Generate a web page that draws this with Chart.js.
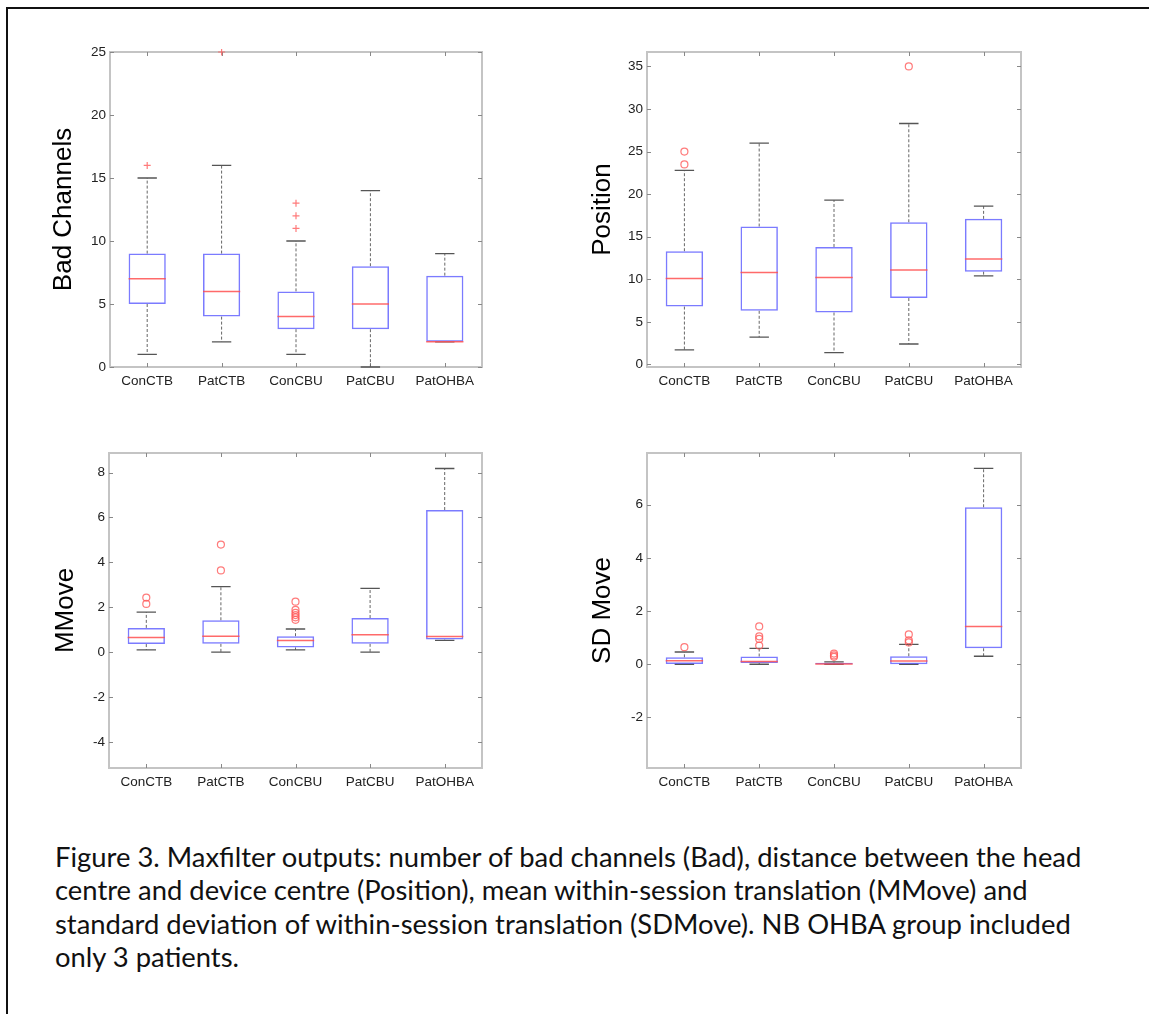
<!DOCTYPE html>
<html>
<head>
<meta charset="utf-8">
<script src="https://cdn.jsdelivr.net/npm/chart.js@4.4.1/dist/chart.umd.min.js"></script>
<style>
  body { margin: 0; background: #fff; width: 1149px; height: 1014px; overflow: hidden; position: relative; }
  .frame { position: absolute; left: 6px; top: 7px; width: 1160px; height: 1030px; border-top: 2px solid #111; border-left: 2px solid #111; }
  canvas.plot { position: absolute; filter: blur(0.5px); }
  .caption { position: absolute; left: 55px; top: 840px; font-family: Lato, "Open Sans", sans-serif; font-size: 27.4px; line-height: 33.3px; color: #111; white-space: nowrap; }
</style>
</head>
<body>
<div class="frame"></div>
<canvas id="badChart" class="plot" width="574" height="420" style="left:0;top:0"></canvas>
<canvas id="posChart" class="plot" width="575" height="420" style="left:574px;top:0"></canvas>
<canvas id="mmoveChart" class="plot" width="574" height="400" style="left:0;top:420px"></canvas>
<canvas id="sdChart" class="plot" width="575" height="400" style="left:574px;top:420px"></canvas>
<div class="caption">
  <div>Figure 3. Maxfilter outputs: number of bad channels (Bad), distance between the head</div>
  <div>centre and device centre (Position), mean within-session translation (MMove) and</div>
  <div>standard deviation of within-session translation (SDMove). NB OHBA group included</div>
  <div>only 3 patients.</div>
</div>
<script>
const groups = ['ConCTB', 'PatCTB', 'ConCBU', 'PatCBU', 'PatOHBA'];

// bad channels
const badLow  = [1, 2, 1, 0, 2];
const badQ1   = [5, 4, 3, 3, 2];
const badMed  = [7, 6, 4, 5, 2];
const badQ3   = [9, 9, 6, 8, 7.25];
const badHigh = [15, 16, 10, 14, 9];
const badOut  = [[16], [25], [11, 12, 13], [], []];
const badTicks = [0, 5, 10, 15, 20, 25];

// head position
const posLow  = [1.7, 3.2, 1.4, 2.4, 10.4];
const posQ1   = [6.8, 6.3, 6.1, 7.8, 10.9];
const posMed  = [10.1, 10.8, 10.2, 11.1, 12.4];
const posQ3   = [13.3, 16.2, 13.8, 16.7, 17.1];
const posHigh = [22.8, 26, 19.3, 28.3, 18.6];
const posOut  = [[23.5, 25], [], [], [35], []];
const posTicks = [0, 5, 10, 15, 20, 25, 30, 35];

// mean movement
const mmLow  = [0.1, 0, 0.1, 0, 0.52];
const mmQ1   = [0.36, 0.37, 0.21, 0.37, 0.56];
const mmMed  = [0.65, 0.71, 0.52, 0.77, 0.7];
const mmQ3   = [1.08, 1.42, 0.71, 1.52, 6.33];
const mmHigh = [1.78, 2.92, 1.03, 2.84, 8.18];
const mmOut  = [[2.15, 2.43], [3.64, 4.79], [1.44, 1.55, 1.65, 1.75, 1.88, 2.25], [], []];
const mmTicks = [-4, -2, 0, 2, 4, 6, 8];

// SD of movement
const sdLow  = [0, 0, 0, 0, 0.3];
const sdQ1   = [0.01, 0.05, 0, 0, 0.6];
const sdMed  = [0.13, 0.1, 0.01, 0.12, 1.42];
const sdQ3   = [0.26, 0.29, 0.06, 0.3, 5.9];
const sdHigh = [0.46, 0.6, 0.09, 0.75, 7.36];
const sdOut  = [[0.64], [0.7, 0.95, 1.05, 1.42], [0.28, 0.33, 0.4], [0.82, 0.9, 1.12], []];
const sdTicks = [-2, 0, 2, 4, 6];

const boxBlue = 'rgba(90, 90, 255, 0.8)';
const medRed = 'rgba(255, 80, 80, 0.85)';
const outRed = 'rgba(255, 90, 90, 0.8)';
const tickFont = { family: 'Liberation Sans', size: 13.5 };

// whiskers under the boxes, medians on top, then the matlab-style frame with inward ticks
const boxWhiskers = {
  id: 'boxWhiskers',
  beforeDatasetsDraw(chart, args, opts) {
    const { ctx, scales: { x, y } } = chart;
    const step = x.getPixelForValue(1) - x.getPixelForValue(0);
    const cap = step * 0.13;
    ctx.save();
    opts.low.forEach((lo, i) => {
      const cx = x.getPixelForValue(i);
      const yLo = y.getPixelForValue(lo), yQ1 = y.getPixelForValue(opts.q1[i]);
      const yHi = y.getPixelForValue(opts.high[i]), yQ3 = y.getPixelForValue(opts.q3[i]);
      ctx.strokeStyle = '#666';
      ctx.lineWidth = 1;
      ctx.setLineDash([3, 2]);
      ctx.beginPath();
      ctx.moveTo(cx, yQ1); ctx.lineTo(cx, yLo);
      ctx.moveTo(cx, yQ3); ctx.lineTo(cx, yHi);
      ctx.stroke();
      ctx.setLineDash([]);
      ctx.strokeStyle = '#555';
      ctx.lineWidth = 1.3;
      ctx.beginPath();
      ctx.moveTo(cx - cap, yLo); ctx.lineTo(cx + cap, yLo);
      ctx.moveTo(cx - cap, yHi); ctx.lineTo(cx + cap, yHi);
      ctx.stroke();
    });
    ctx.restore();
  },
  afterDatasetsDraw(chart, args, opts) {
    const { ctx, scales: { x, y } } = chart;
    const boxes = chart.getDatasetMeta(0).data;
    ctx.save();
    ctx.strokeStyle = medRed;
    ctx.lineWidth = 1.5;
    opts.med.forEach((m, i) => {
      const half = boxes[i].width / 2;
      const cx = x.getPixelForValue(i);
      const py = y.getPixelForValue(m);
      ctx.beginPath();
      ctx.moveTo(cx - half, py); ctx.lineTo(cx + half, py);
      ctx.stroke();
    });
    ctx.restore();
  },
  beforeDraw(chart) {
    const { ctx, chartArea: a, scales: { x, y } } = chart;
    ctx.save();
    ctx.strokeStyle = '#c4c4c4';
    ctx.lineWidth = 2;
    ctx.strokeRect(a.left, a.top, a.right - a.left, a.bottom - a.top);
    ctx.strokeStyle = '#888';
    ctx.lineWidth = 1;
    ctx.beginPath();
    y.ticks.forEach(t => {
      const py = Math.round(y.getPixelForValue(t.value)) + 0.5;
      ctx.moveTo(a.left, py); ctx.lineTo(a.left + 4, py);
      ctx.moveTo(a.right, py); ctx.lineTo(a.right - 4, py);
    });
    groups.forEach((g, i) => {
      const px = Math.round(x.getPixelForValue(i)) + 0.5;
      ctx.moveTo(px, a.top); ctx.lineTo(px, a.top + 4);
      ctx.moveTo(px, a.bottom); ctx.lineTo(px, a.bottom - 4);
    });
    ctx.stroke();
    ctx.restore();
  }
};

function makeBoxChart(id, cfg) {
  const outliers = groups.flatMap((g, i) => cfg.out[i].map(v => ({ x: g, y: v })));
  return new Chart(document.getElementById(id), {
    type: 'bar',
    data: {
      labels: groups,
      datasets: [{
        data: cfg.q1.map((v, i) => [v, cfg.q3[i]]),
        backgroundColor: 'rgba(0,0,0,0)',
        borderColor: boxBlue,
        borderWidth: 1.5,
        borderSkipped: false,
        barPercentage: 0.5,
        categoryPercentage: 1
      }, {
        type: 'line',
        data: outliers,
        showLine: false,
        clip: 3,
        pointStyle: cfg.marker,
        pointRadius: 3.5,
        borderColor: outRed,
        backgroundColor: 'rgba(0,0,0,0)',
        pointBorderWidth: 1.2
      }]
    },
    options: {
      responsive: false,
      devicePixelRatio: 1,
      animation: false,
      layout: { padding: { top: cfg.padTop, right: cfg.padRight, left: 0, bottom: 0 } },
      plugins: {
        legend: { display: false },
        tooltip: { enabled: false },
        boxWhiskers: { low: cfg.low, q1: cfg.q1, med: cfg.med, q3: cfg.q3, high: cfg.high }
      },
      scales: {
        x: {
          offset: true,
          grid: { display: false, drawTicks: false },
          border: { display: false },
          ticks: { color: '#222', padding: 6, maxRotation: 0, font: tickFont },
          afterFit: s => { s.height = cfg.xHeight; }
        },
        y: {
          min: cfg.min,
          max: cfg.max,
          grid: { display: false, drawTicks: false },
          border: { display: false },
          ticks: { color: '#222', padding: 4, font: tickFont },
          afterBuildTicks: s => { s.ticks = cfg.ticks.map(v => ({ value: v })); },
          afterFit: s => { s.width = cfg.yWidth; },
          title: {
            display: true,
            text: cfg.title,
            color: '#000',
            font: { family: 'Liberation Sans', size: 26 },
            padding: { top: cfg.titlePad, bottom: 0 }
          }
        }
      }
    },
    plugins: [boxWhiskers]
  });
}

makeBoxChart('badChart', {
  title: 'Bad Channels', low: badLow, q1: badQ1, med: badMed, q3: badQ3, high: badHigh, out: badOut,
  ticks: badTicks, min: 0, max: 25, marker: 'cross',
  yWidth: 110, xHeight: 53, padTop: 52, padRight: 92, titlePad: 48
});
makeBoxChart('posChart', {
  title: 'Position', low: posLow, q1: posQ1, med: posMed, q3: posQ3, high: posHigh, out: posOut,
  ticks: posTicks, min: -0.3, max: 36.7, marker: 'circle',
  yWidth: 73, xHeight: 53, padTop: 52, padRight: 128, titlePad: 13
});
makeBoxChart('mmoveChart', {
  title: 'MMove', low: mmLow, q1: mmQ1, med: mmMed, q3: mmQ3, high: mmHigh, out: mmOut,
  ticks: mmTicks, min: -5.16, max: 8.87, marker: 'circle',
  yWidth: 109, xHeight: 52, padTop: 33, padRight: 92, titlePad: 50
});
makeBoxChart('sdChart', {
  title: 'SD Move', low: sdLow, q1: sdQ1, med: sdMed, q3: sdQ3, high: sdHigh, out: sdOut,
  ticks: sdTicks, min: -3.9, max: 7.94, marker: 'circle',
  yWidth: 73, xHeight: 52, padTop: 33, padRight: 128, titlePad: 13
});
</script>
</body>
</html>
